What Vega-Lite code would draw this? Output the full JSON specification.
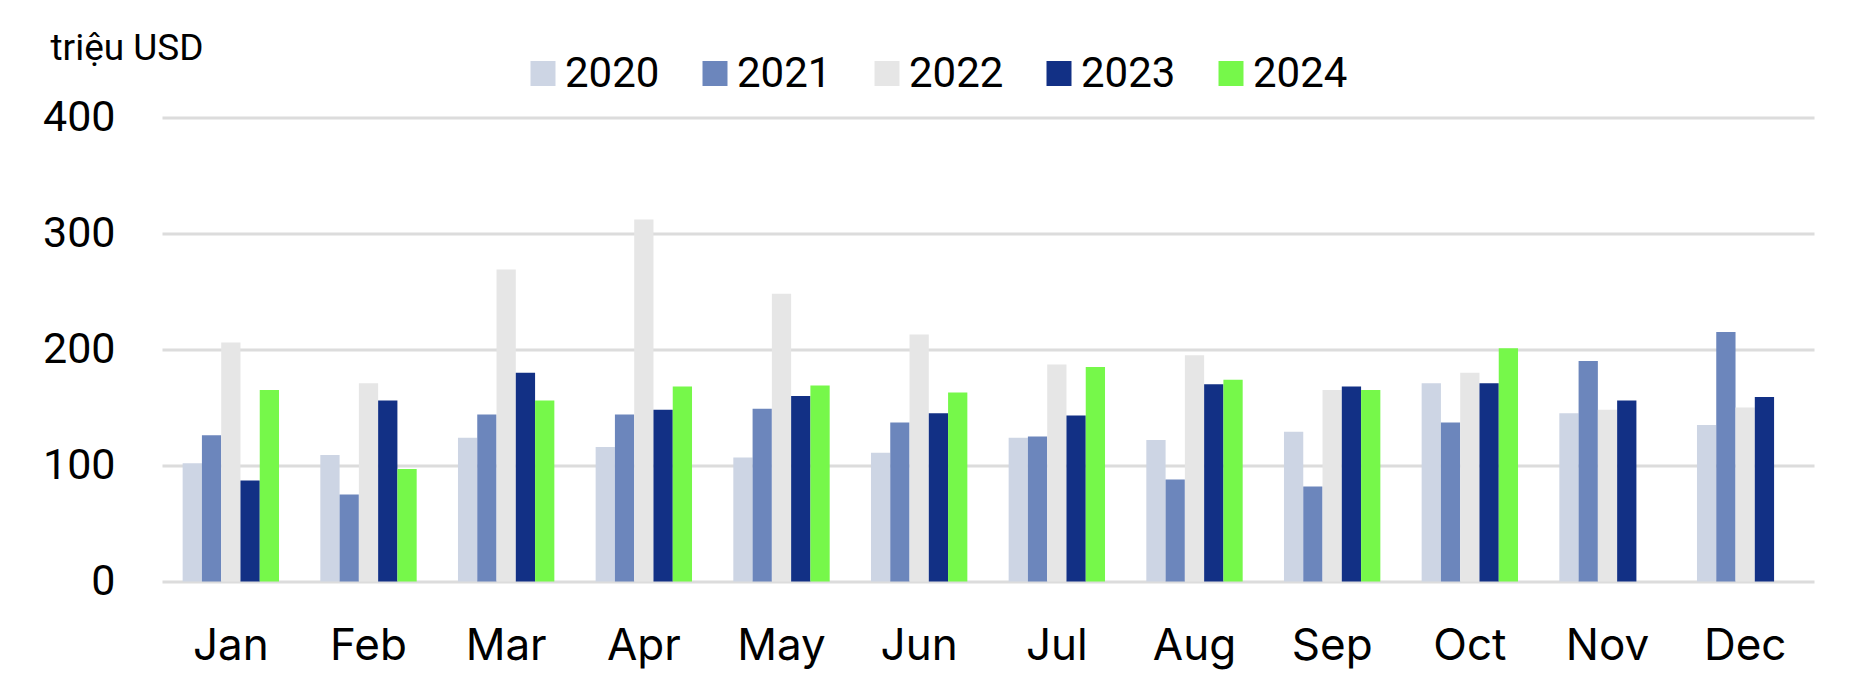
{
  "$schema": "https://vega.github.io/schema/vega-lite/v6.json",
  "autosize": {"type": "none"},
  "padding": {"left": 162, "top": 117.5, "right": 39, "bottom": 109.5},
  "width": 1652,
  "height": 464,
  "background": "white",
  "data": {"values": [
    {"month": "Jan", "year": "2020", "value": 102}, {"month": "Jan", "year": "2021", "value": 126}, {"month": "Jan", "year": "2022", "value": 206}, {"month": "Jan", "year": "2023", "value": 87}, {"month": "Jan", "year": "2024", "value": 165},
    {"month": "Feb", "year": "2020", "value": 109}, {"month": "Feb", "year": "2021", "value": 75}, {"month": "Feb", "year": "2022", "value": 171}, {"month": "Feb", "year": "2023", "value": 156}, {"month": "Feb", "year": "2024", "value": 97},
    {"month": "Mar", "year": "2020", "value": 124}, {"month": "Mar", "year": "2021", "value": 144}, {"month": "Mar", "year": "2022", "value": 269}, {"month": "Mar", "year": "2023", "value": 180}, {"month": "Mar", "year": "2024", "value": 156},
    {"month": "Apr", "year": "2020", "value": 116}, {"month": "Apr", "year": "2021", "value": 144}, {"month": "Apr", "year": "2022", "value": 312}, {"month": "Apr", "year": "2023", "value": 148}, {"month": "Apr", "year": "2024", "value": 168},
    {"month": "May", "year": "2020", "value": 107}, {"month": "May", "year": "2021", "value": 149}, {"month": "May", "year": "2022", "value": 248}, {"month": "May", "year": "2023", "value": 160}, {"month": "May", "year": "2024", "value": 169},
    {"month": "Jun", "year": "2020", "value": 111}, {"month": "Jun", "year": "2021", "value": 137}, {"month": "Jun", "year": "2022", "value": 213}, {"month": "Jun", "year": "2023", "value": 145}, {"month": "Jun", "year": "2024", "value": 163},
    {"month": "Jul", "year": "2020", "value": 124}, {"month": "Jul", "year": "2021", "value": 125}, {"month": "Jul", "year": "2022", "value": 187}, {"month": "Jul", "year": "2023", "value": 143}, {"month": "Jul", "year": "2024", "value": 185},
    {"month": "Aug", "year": "2020", "value": 122}, {"month": "Aug", "year": "2021", "value": 88}, {"month": "Aug", "year": "2022", "value": 195}, {"month": "Aug", "year": "2023", "value": 170}, {"month": "Aug", "year": "2024", "value": 174},
    {"month": "Sep", "year": "2020", "value": 129}, {"month": "Sep", "year": "2021", "value": 82}, {"month": "Sep", "year": "2022", "value": 165}, {"month": "Sep", "year": "2023", "value": 168}, {"month": "Sep", "year": "2024", "value": 165},
    {"month": "Oct", "year": "2020", "value": 171}, {"month": "Oct", "year": "2021", "value": 137}, {"month": "Oct", "year": "2022", "value": 180}, {"month": "Oct", "year": "2023", "value": 171}, {"month": "Oct", "year": "2024", "value": 201},
    {"month": "Nov", "year": "2020", "value": 145}, {"month": "Nov", "year": "2021", "value": 190}, {"month": "Nov", "year": "2022", "value": 148}, {"month": "Nov", "year": "2023", "value": 156},
    {"month": "Dec", "year": "2020", "value": 135}, {"month": "Dec", "year": "2021", "value": 215}, {"month": "Dec", "year": "2022", "value": 150}, {"month": "Dec", "year": "2023", "value": 159}
  ]},
  "mark": {"type": "bar"},
  "encoding": {
    "x": {
      "field": "month", "type": "nominal",
      "sort": ["Jan","Feb","Mar","Apr","May","Jun","Jul","Aug","Sep","Oct","Nov","Dec"],
      "scale": {"paddingInner": 0.3, "paddingOuter": 0.15},
      "axis": {"title": null, "labelAngle": 0, "ticks": false, "domain": false, "labelFont": "Inter", "labelFontSize": 44, "labelColor": "#000000", "labelBaseline": "alphabetic", "labelPadding": 78}
    },
    "xOffset": {"field": "year", "type": "nominal", "scale": {"domain": ["2020","2021","2022","2023","2024"], "paddingInner": 0, "paddingOuter": 0}},
    "y": {
      "field": "value", "type": "quantitative",
      "scale": {"domain": [0, 400], "nice": false},
      "axis": {"values": [0,100,200,300,400], "title": "triệu USD", "titleAngle": 0, "titleAlign": "left", "titleBaseline": "alphabetic", "titleX": -112, "titleY": -58, "titleFont": "Roboto", "titleFontSize": 37, "titleFontWeight": "normal", "titleColor": "#000000",
        "labelFont": "Roboto", "labelFontSize": 43, "labelColor": "#000000", "labelPadding": 47, "ticks": false, "domain": false, "grid": true, "gridColor": "#DCDCDC", "gridWidth": 3}
    },
    "color": {
      "field": "year", "type": "nominal",
      "scale": {"domain": ["2020","2021","2022","2023","2024"], "range": ["#CDD5E4","#6C86BC","#E6E6E6","#123085","#76F84A"]},
      "legend": {"title": null, "orient": "none", "direction": "horizontal", "legendX": 360, "legendY": -65, "symbolType": "square", "symbolSize": 625, "symbolStrokeWidth": 0, "labelFont": "Roboto", "labelFontSize": 42, "labelColor": "#000000", "labelOffset": 1, "columnPadding": 34}
    }
  },
  "config": {"view": {"stroke": null}}
}
